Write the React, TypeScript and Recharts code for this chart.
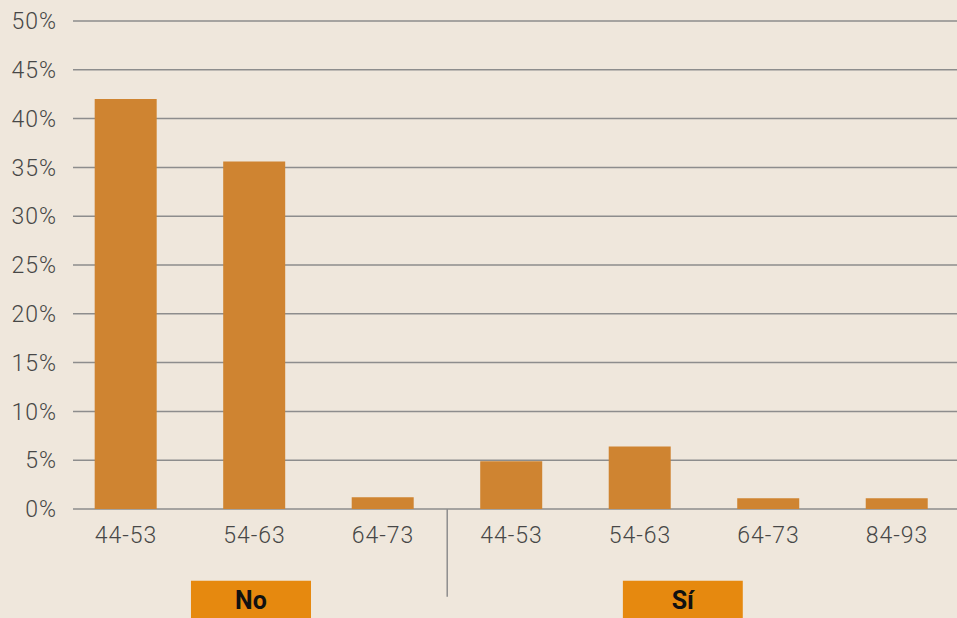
import React from 'react';
import { BarChart, Bar, XAxis, YAxis, CartesianGrid, ReferenceLine, ReferenceArea } from 'recharts';

// age ranges, grouped by answer ("No" first three, "Sí" last four)
const ageRanges = ['44-53', '54-63', '64-73', '44-53', '54-63', '64-73', '84-93'];
const shares = [42, 35.6, 1.2, 4.9, 6.4, 1.1, 1.1];
const yTicks = [0, 5, 10, 15, 20, 25, 30, 35, 40, 45, 50];
const groupLabels = ['No', 'Sí'];

const data = ageRanges.map((range, i) => ({ idx: i, range, value: shares[i] }));

const BG = '#efe7dc';
const BAR = '#cf8431';
const BOX = '#e6890f';
const tickStyle = { fill: '#474747', fontSize: 23, fontFamily: 'Roboto, sans-serif', fontWeight: 300, letterSpacing: 1 };
const boxLabel = { position: 'center' as const, fill: '#111', fontSize: 25, fontWeight: 700, fontFamily: 'Roboto, sans-serif', dy: -3 };

export default function App() {
  return (
    <div style={{ position: 'absolute', left: 0, top: 0, width: 957, height: 618, background: BG, overflow: 'hidden' }}>
      <BarChart width={957} height={618} data={data} margin={{ top: 21, right: 0, left: 0, bottom: 79 }}>
        <CartesianGrid vertical={false} stroke="#8d8d8d" strokeWidth={1.5} />
        <XAxis
          dataKey="idx"
          type="number"
          domain={[-0.412, 6.467]}
          allowDataOverflow
          ticks={[0, 1, 2, 3, 4, 5, 6]}
          interval={0}
          tickFormatter={(v) => ageRanges[v] ?? ''}
          axisLine={false}
          tickLine={false}
          tickSize={0}
          tickMargin={18}
          height={30}
          tick={tickStyle}
        />
        <YAxis
          domain={[0, 50]}
          ticks={yTicks}
          interval={0}
          tickFormatter={(v) => `${v}%`}
          axisLine={false}
          tickLine={false}
          tickSize={0}
          tickMargin={16}
          width={73}
          tick={tickStyle}
        />
        <Bar dataKey="value" fill={BAR} barSize={62} isAnimationActive={false} />
        {/* separator between the two groups */}
        <ReferenceLine
          segment={[{ x: 2.5, y: 0 }, { x: 2.5, y: -9 }]}
          stroke="#8d8d8d"
          strokeWidth={1.5}
          ifOverflow="visible"
        />
        <ReferenceArea x1={0.506} x2={1.44} y1={-7.35} y2={-12} fill={BOX} fillOpacity={1} ifOverflow="visible" label={{ value: groupLabels[0], ...boxLabel }} />
        <ReferenceArea x1={3.867} x2={4.8} y1={-7.35} y2={-12} fill={BOX} fillOpacity={1} ifOverflow="visible" label={{ value: groupLabels[1], ...boxLabel }} />
      </BarChart>
    </div>
  );
}
